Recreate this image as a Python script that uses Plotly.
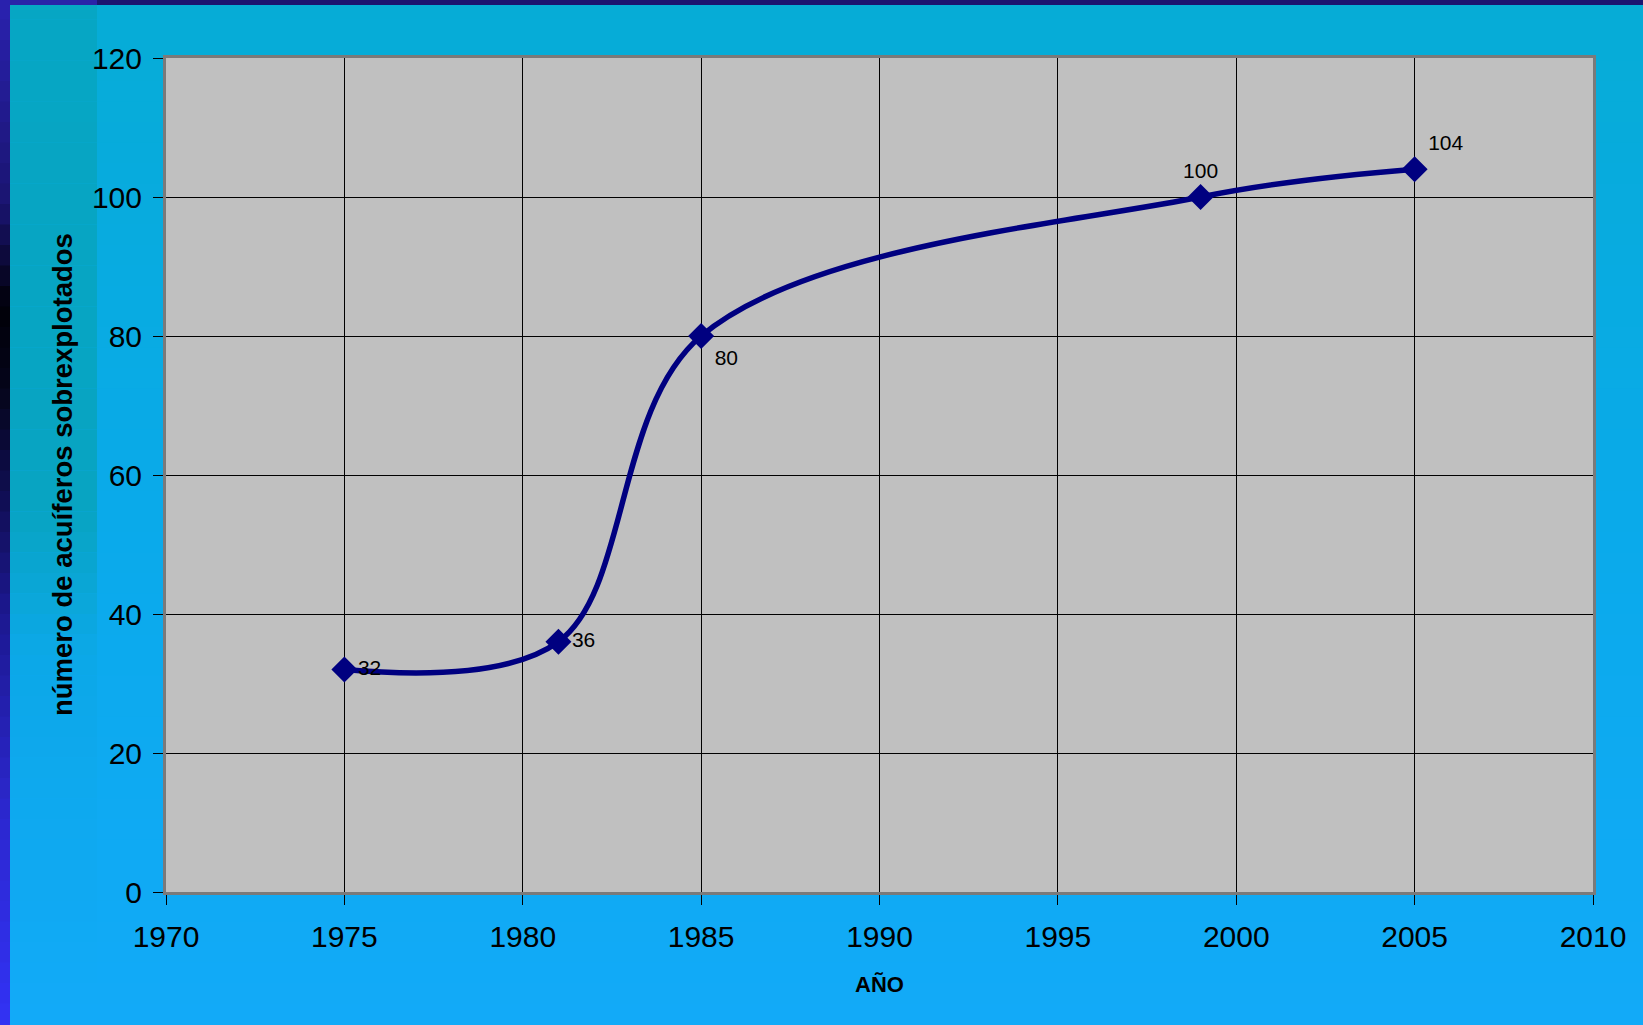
import plotly.graph_objects as go

# ----------------------
# Data
# ----------------------
years = [1975, 1981, 1985, 1999, 2005]
acuiferos = [32, 36, 80, 100, 104]
label_pos = ["middle right", "middle right", "bottom right", "top center", "top right"]

x_ticks = [1970, 1975, 1980, 1985, 1990, 1995, 2000, 2005, 2010]
y_ticks = [0, 20, 40, 60, 80, 100, 120]

FONT = "Liberation Sans, Arial, sans-serif"
W, H = 1643, 1025
L, R, T, B = 166, 50, 58, 133
pw, ph = W - L - R, H - T - B


def hex_to_rgb(h):
    h = h.lstrip("#")
    return [int(h[i:i + 2], 16) for i in (0, 2, 4)]


def blend(stops, t):
    # stops: list of (position 0..1, hex colour)
    for (p0, c0), (p1, c1) in zip(stops[:-1], stops[1:]):
        if p0 <= t <= p1:
            f = 0 if p1 == p0 else (t - p0) / (p1 - p0)
            a, b = hex_to_rgb(c0), hex_to_rgb(c1)
            return "rgb(%d,%d,%d)" % tuple(round(a[i] + (b[i] - a[i]) * f) for i in range(3))
    return stops[-1][1]


def px_rect(x0, x1, y0, y1, color):
    # rectangle given in figure pixels (y from top), converted to paper coords
    return dict(type="rect", xref="paper", yref="paper", layer="below", line_width=0,
                fillcolor=color,
                x0=(x0 - L) / pw, x1=(x1 - L) / pw,
                y0=(H - y1 - B) / ph, y1=(H - y0 - B) / ph)


# ----------------------
# Background decoration (slide look)
# ----------------------
shapes = []
n_bands = 50
main_stops = [(0, "#06acd6"), (0.5, "#0aaaea"), (1, "#12aaf8")]
teal_stops = [(0, "#06a6c4"), (0.5, "#08a4c2"), (0.64, "#0ca8e8"), (1, "#12aaf8")]
side_stops = [(0, "#2a22b0"), (0.2, "#1a1470"), (0.3, "#000008"), (0.38, "#05051a"),
              (0.6, "#1c1890"), (0.8, "#2c28d0"), (1, "#3232f4")]
for i in range(n_bands):
    t0, t1 = i / n_bands, (i + 1) / n_bands
    tm = (t0 + t1) / 2
    y0, y1 = t0 * H - 1, t1 * H + 1
    shapes.append(px_rect(10, W, y0, y1, blend(main_stops, tm)))
    shapes.append(px_rect(10, 97, y0, y1, blend(teal_stops, tm)))
    shapes.append(px_rect(0, 10, y0, y1, blend(side_stops, tm)))
# top strip
shapes.append(px_rect(97, W, 0, 5, "#1c1470"))
shapes.append(px_rect(10, 97, 0, 5, "#2a22a8"))
# plot area fill (drawn over the background bands)
shapes.append(dict(type="rect", xref="paper", yref="paper", layer="below", line_width=0,
                   fillcolor="#c0c0c0", x0=0, x1=1, y0=0, y1=1))

# ----------------------
# Figure
# ----------------------
fig = go.Figure(
    go.Scatter(
        x=years,
        y=acuiferos,
        mode="lines+markers+text",
        line=dict(color="#000080", width=5.5, shape="spline", smoothing=1.0),
        marker=dict(symbol="diamond", size=20, color="#000080"),
        text=[str(v) for v in acuiferos],
        textposition=label_pos,
        textfont=dict(family=FONT, size=21, color="black"),
        cliponaxis=False,
        hoverinfo="x+y",
    )
)

axis_style = dict(
    showgrid=True,
    gridcolor="black",
    gridwidth=1,
    showline=True,
    linecolor="#7a7a7a",
    linewidth=3,
    mirror=True,
    ticks="outside",
    ticklen=10,
    tickcolor="black",
    tickfont=dict(size=30),
    zeroline=False,
)

fig.update_layout(
    width=W,
    height=H,
    margin=dict(l=L, r=R, t=T, b=B),
    paper_bgcolor="#0aaaea",
    plot_bgcolor="#c0c0c0",
    showlegend=False,
    font=dict(family=FONT, color="black"),
    shapes=shapes,
    xaxis=dict(range=[1970, 2010], tickvals=x_ticks, ticklabelstandoff=6, **axis_style),
    yaxis=dict(range=[0, 120], tickvals=y_ticks, ticklabelstandoff=5, **axis_style),
    annotations=[
        dict(text="<b>número de acuíferos sobrexplotados</b>", textangle=-90,
             xref="paper", yref="paper", x=(62 - L) / pw, y=0.5,
             showarrow=False, font=dict(size=27.5, color="black"),
             xanchor="center", yanchor="middle"),
        dict(text="<b>AÑO</b>", xref="paper", yref="paper",
             x=0.5, y=-(984 - (H - B)) / ph,
             showarrow=False, font=dict(size=22, color="black"),
             xanchor="center", yanchor="middle"),
    ],
)

fig.write_html("out.html", config={"displayModeBar": False},
               post_script="document.body.style.margin='0px';")
